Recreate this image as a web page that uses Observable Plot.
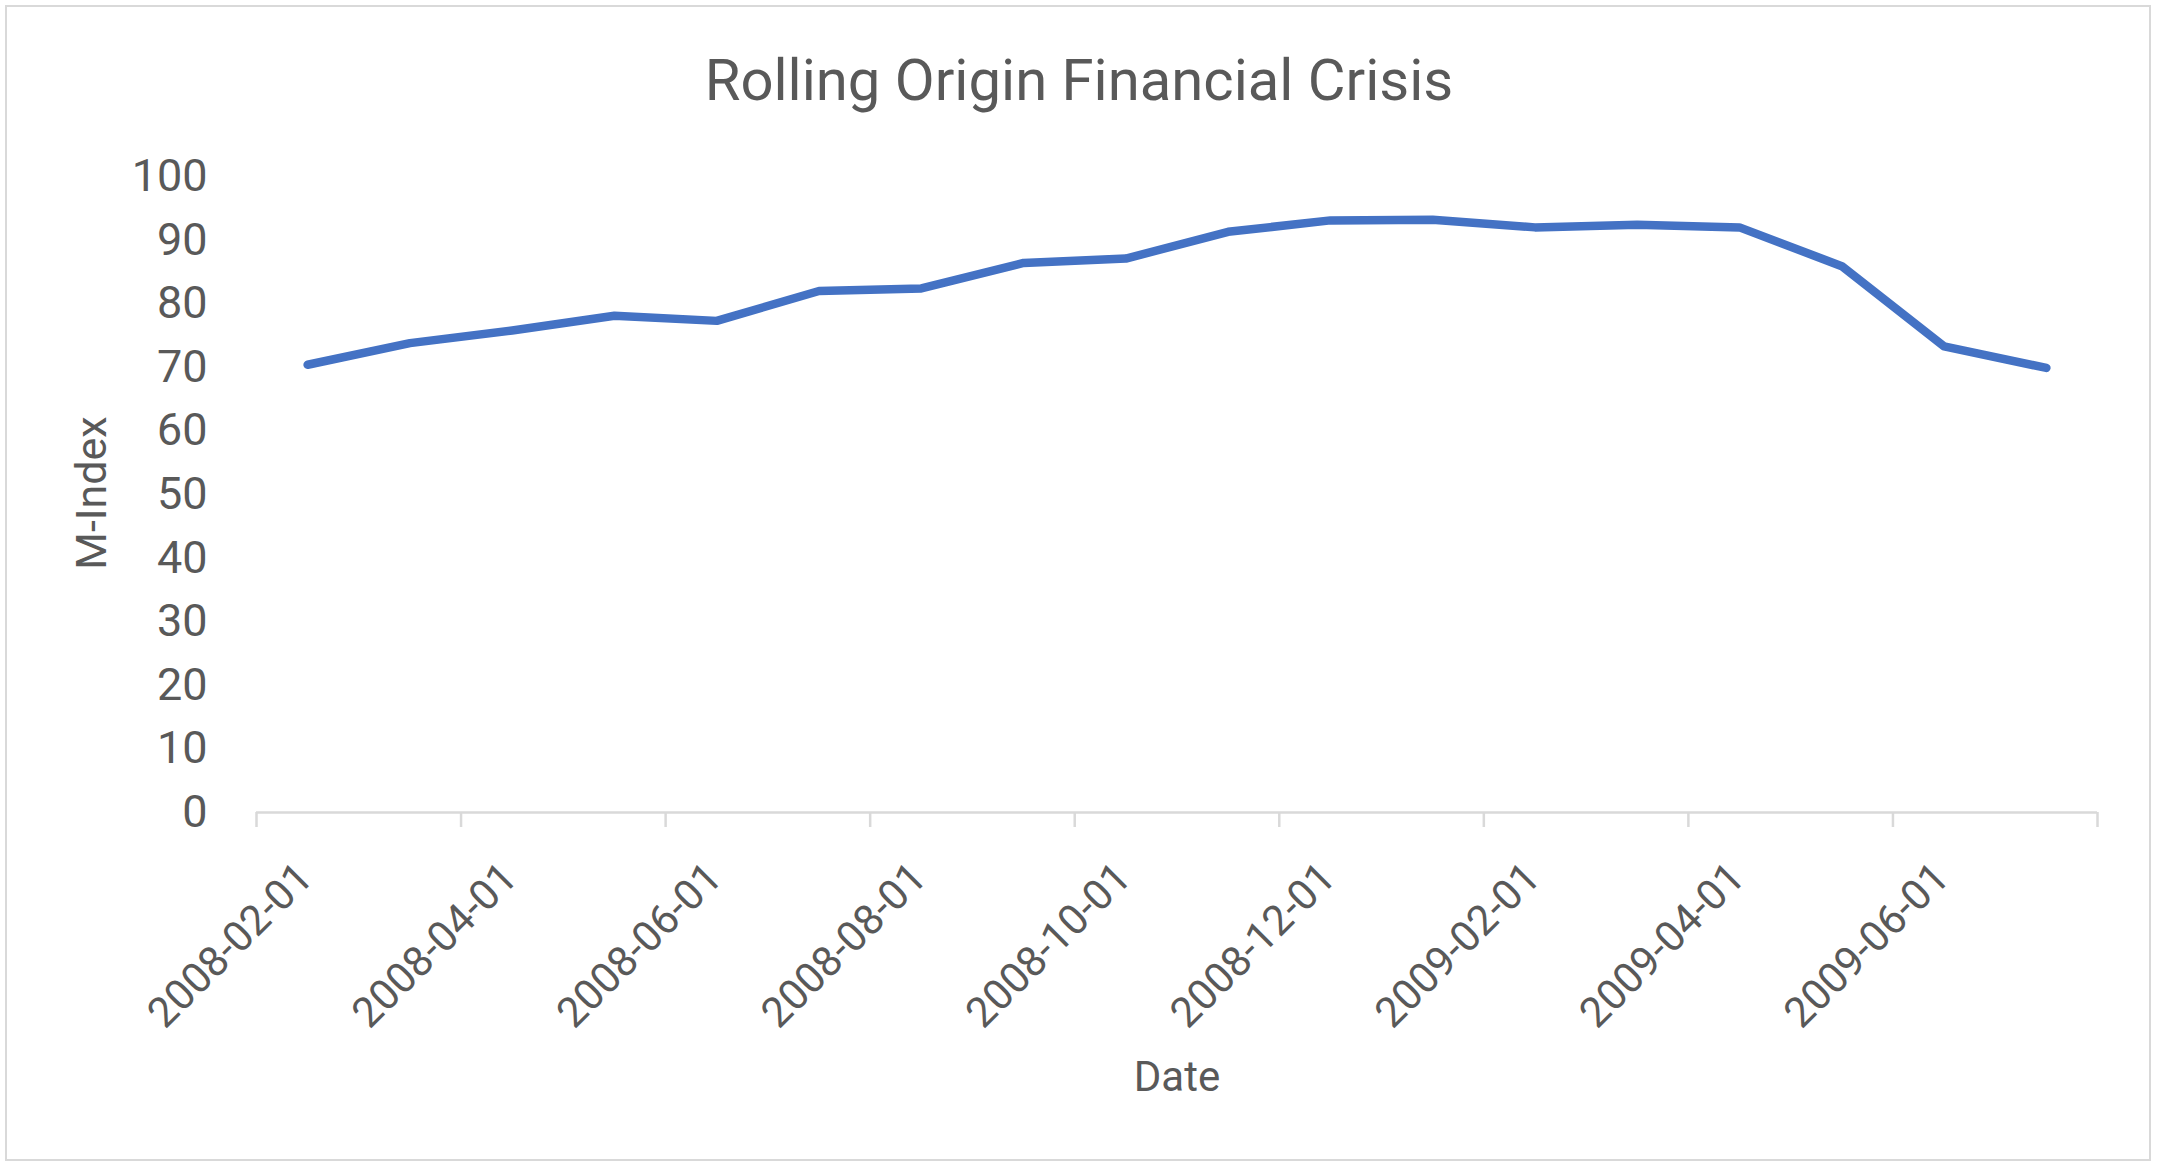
<!DOCTYPE html>
<html>
<head>
<meta charset="utf-8">
<script src="https://cdn.jsdelivr.net/npm/d3@7"></script>
<script src="https://cdn.jsdelivr.net/npm/@observablehq/plot@0.6"></script>
<style>
  html, body { margin: 0; padding: 0; background: #ffffff; }
  body { width: 2158px; height: 1168px; position: relative; overflow: hidden; font-family: Roboto, "Open Sans", sans-serif; color: #595959; }
  #frame { position: absolute; left: 5px; top: 5px; width: 2146px; height: 1156px; box-sizing: border-box; border: 2px solid #d9d9d9; z-index: 3; pointer-events: none; }
  #title { position: absolute; left: 0; width: 2158px; top: 51px; text-align: center; font-size: 58px; line-height: 58px; white-space: nowrap; }
  #xlabel { position: absolute; left: 1177px; top: 1056px; transform: translateX(-50%); font-size: 42px; line-height: 42px; white-space: nowrap; }
  #ylabel { position: absolute; left: 91px; top: 493px; transform: translate(-50%, -50%) rotate(-90deg); font-size: 43px; line-height: 43px; white-space: nowrap; }
  #chart { position: absolute; left: 0; top: 120px; }
</style>
</head>
<body>
<div id="title">Rolling Origin Financial Crisis</div>
<div id="chart"></div>
<div id="xlabel">Date</div>
<div id="ylabel">M-Index</div>
<div id="frame"></div>
<script>
// Months (categories)
const months = [
  "2008-02-01","2008-03-01","2008-04-01","2008-05-01","2008-06-01","2008-07-01",
  "2008-08-01","2008-09-01","2008-10-01","2008-11-01","2008-12-01","2009-01-01",
  "2009-02-01","2009-03-01","2009-04-01","2009-05-01","2009-06-01","2009-07-01"
];
// M-Index series values
const mIndex = [70.4, 73.8, 75.8, 78.1, 77.3, 82.0, 82.4, 86.4, 87.1, 91.3, 93.1, 93.2, 92.0, 92.4, 92.0, 85.9, 73.3, 69.9];
// Tick labels
const xTickLabels = ["2008-02-01","2008-04-01","2008-06-01","2008-08-01","2008-10-01","2008-12-01","2009-02-01","2009-04-01","2009-06-01"];
const yTicks = [0, 10, 20, 30, 40, 50, 60, 70, 80, 90, 100];

const data = months.map((m, i) => ({date: m, value: mIndex[i]}));

const W = 2158, H = 1048;
const mL = 256, mR = 61, mT = 56, mB = 356;
const bw = (W - mL - mR) / months.length;
const grey = "#d9d9d9";
const textColor = "#595959";

const chart = Plot.plot({
  width: W,
  height: H,
  marginLeft: mL,
  marginRight: mR,
  marginTop: mT,
  marginBottom: mB,
  style: {background: "transparent", fontFamily: "Roboto, 'Open Sans', sans-serif", color: textColor, overflow: "visible"},
  x: {type: "band", domain: months, paddingInner: 0, paddingOuter: 0, round: false, axis: null},
  y: {domain: [0, 100], axis: null},
  marks: [
    Plot.axisY({ticks: yTicks, tickSize: 0, tickPadding: 49, fontSize: 45, fill: textColor, label: null}),
    Plot.ruleY([0], {stroke: grey, strokeWidth: 2.5}),
    Plot.axisX({ticks: xTickLabels, tickSize: 15, stroke: grey, strokeWidth: 2.5, dx: -bw / 2, tickFormat: () => "", label: null}),
    Plot.axisX({ticks: [months[months.length - 1]], tickSize: 15, stroke: grey, strokeWidth: 2.5, dx: bw / 2, tickFormat: () => "", label: null}),
    Plot.text(xTickLabels, {x: d => d, frameAnchor: "bottom", text: d => d, rotate: -45, textAnchor: "end", lineAnchor: "middle", dx: 49 - bw / 2, dy: 58, fontSize: 42, fill: textColor}),
    Plot.line(data, {x: "date", y: "value", stroke: "#4472C4", strokeWidth: 8.5, strokeLinecap: "round", strokeLinejoin: "round"})
  ]
});
document.getElementById("chart").appendChild(chart);
</script>
</body>
</html>
